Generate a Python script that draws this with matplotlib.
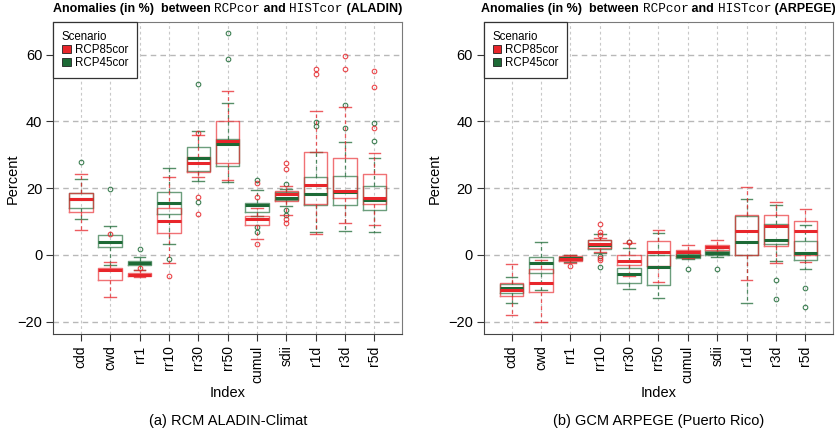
import matplotlib
matplotlib.use("Agg")
import matplotlib.pyplot as plt
from matplotlib.patches import Patch
from matplotlib.offsetbox import TextArea, HPacker, AnchoredOffsetbox

plt.rcParams['font.family'] = ['Liberation Sans', 'DejaVu Sans']

indices = ["cdd", "cwd", "rr1", "rr10", "rr30", "rr50", "cumul", "sdii", "r1d", "r3d", "r5d"]
scenarios = ["RCP85cor", "RCP45cor"]

# ---- ALADIN ----
ala85_whishi = [24.2, -2.1, -4.5, 23.3, 35.9, 49.1, 14.2, 20.7, 43.0, 44.2, 30.4]
ala85_q3 = [18.4, -3.9, -5.4, 14.0, 29.4, 40.1, 11.8, 19.2, 30.7, 28.9, 24.1]
ala85_med = [16.7, -4.5, -5.9, 10.1, 27.6, 34.1, 10.9, 18.2, 21.0, 19.1, 17.1]
ala85_q1 = [13.0, -7.4, -6.3, 6.7, 24.8, 27.4, 9.1, 16.1, 15.4, 17.2, 15.4]
ala85_whislo = [7.6, -12.5, -6.7, -2.5, 23.4, 22.4, 4.9, 12.0, 6.3, 9.6, 9.1]
ala85_fliers = [[], [6.2], [-3.8], [-6.2], [36.4, 17.5, 12.3], [], [21.5, 17.3, 3.2],
                [27.4, 25.7, 10.9, 9.7], [55.6, 54.2], [59.7, 55.7], [55.2, 50.2, 38.1]]

ala45_whishi = [22.8, 8.6, -0.5, 26.1, 37.2, 45.6, 19.4, 19.6, 30.9, 33.7, 28.9]
ala45_q3 = [18.5, 6.0, -1.7, 18.8, 32.2, 34.8, 15.6, 18.8, 23.4, 23.6, 20.7]
ala45_med = [16.9, 4.0, -2.3, 15.7, 29.0, 33.1, 15.0, 17.1, 18.1, 18.7, 16.4]
ala45_q1 = [14.2, 2.4, -3.0, 12.2, 25.0, 26.7, 12.9, 16.5, 14.9, 15.0, 13.4]
ala45_whislo = [10.7, -2.9, -4.4, 3.2, 22.0, 21.9, 11.6, 14.7, 6.8, 7.2, 7.0]
ala45_fliers = [[27.7], [19.6], [1.7], [-1.1], [51.3, 15.9], [66.4, 58.7], [22.4, 8.4, 6.9],
                [21.1, 13.4, 11.9], [39.9, 38.6], [44.9, 38.1], [39.4, 34.1]]

# ---- ARPEGE ----
arp85_whishi = [-2.7, -1.4, 0.1, 5.2, 3.6, 7.6, 2.9, 4.4, 20.4, 15.9, 13.8]
arp85_q3 = [-8.4, -4.1, -0.4, 4.6, -0.1, 4.1, 1.6, 3.0, 12.1, 11.9, 10.3]
arp85_med = [-10.6, -8.3, -1.1, 3.3, -1.9, 1.0, 0.9, 2.5, 7.3, 8.6, 7.1]
arp85_q1 = [-12.3, -11.0, -1.7, 2.0, -3.1, -3.4, -0.3, 1.6, 0.0, 2.6, 0.0]
arp85_whislo = [-18.1, -20.2, -2.4, 1.0, -6.4, -8.1, -1.0, 0.8, -7.6, -2.3, -2.2]
arp85_fliers = [[], [], [-3.3], [9.4, 6.8, 6.0, -0.8, -1.4], [3.9], [], [], [], [], [], []]

arp45_whishi = [-6.6, 4.0, 0.0, 6.2, 2.1, 6.7, 1.0, 2.0, 16.7, 14.9, 9.1]
arp45_q3 = [-8.6, -0.6, -0.6, 4.4, -3.9, 0.0, 0.3, 1.3, 11.6, 9.2, 4.2]
arp45_med = [-9.9, -2.4, -1.0, 3.0, -5.6, -3.5, -0.3, 0.6, 3.9, 4.6, 0.7]
arp45_q1 = [-11.4, -5.4, -1.5, 1.8, -8.3, -8.9, -0.8, 0.0, 0.1, 3.2, -1.4]
arp45_whislo = [-14.5, -10.6, -2.2, 0.5, -10.3, -12.8, -1.3, -0.6, -14.3, -1.9, -4.3]
arp45_fliers = [[], [], [], [-0.3, -3.7], [3.8], [], [-4.3], [-4.1], [], [-7.6, -13.2], [-9.8, -15.5]]

red = "#e8262b"
green = "#1d6a36"


def make_stats(whishi, q3, med, q1, whislo, fliers):
    return [dict(whishi=a, q3=b, med=c, q1=d, whislo=e, fliers=f, label=lab)
            for a, b, c, d, e, f, lab in zip(whishi, q3, med, q1, whislo, fliers, indices)]


def draw_box(ax, stats, col):
    pos = list(range(1, len(indices) + 1))
    ax.bxp(stats, positions=pos, widths=0.8, capwidths=0.4, showfliers=True,
           boxprops=dict(color=col, lw=1.0, alpha=0.65),
           whiskerprops=dict(color=col, lw=0.9, alpha=0.75, linestyle=(0, (3, 2.5))),
           capprops=dict(color=col, lw=1.0, alpha=0.75),
           medianprops=dict(color=col, lw=2.2),
           flierprops=dict(marker='o', markersize=3.3, markerfacecolor='none',
                           markeredgecolor=col, markeredgewidth=0.8, alpha=0.85))


def style_axes(ax, model, ylab_x):
    ax.set_xlim(0.06, 11.94)
    ax.set_ylim(-23.8, 69.7)
    ax.set_yticks([-20, 0, 20, 40, 60])
    ax.set_xticks(range(1, len(indices) + 1))
    ax.set_xticklabels(indices, rotation=90, fontsize=10)
    ax.tick_params(axis='y', labelsize=10.5)
    ax.tick_params(direction='out', length=5, width=0.8, color='#333333', pad=3)
    for y in [-20, 0, 20, 40, 60]:
        ax.axhline(y, color='#b8b8b8', lw=1.0, dashes=(4, 3), zorder=0)
    for x in range(1, len(indices) + 1):
        ax.axvline(x, color='#c8c8c8', lw=0.8, dashes=(2.5, 2.5), zorder=0)
    for s in ['left', 'bottom']:
        ax.spines[s].set_color('#444444')
    for s in ['top', 'right']:
        ax.spines[s].set_color('#7a7a7a')
    ax.set_ylabel('Percent', fontsize=10.5)
    ax.yaxis.set_label_coords(ylab_x, 0.5)

    # title mixing bold sans and monospace
    bold = dict(fontfamily='Liberation Sans', fontweight='bold', fontsize=9)
    mono = dict(fontfamily='Liberation Mono', fontsize=9.2)
    parts = [TextArea("Anomalies (in %)  between ", textprops=bold),
             TextArea("RCPcor", textprops=mono),
             TextArea(" and ", textprops=bold),
             TextArea("HISTcor", textprops=mono),
             TextArea(" (" + model + ")", textprops=bold)]
    box = HPacker(children=parts, align='baseline', pad=0, sep=0)
    anc = AnchoredOffsetbox(loc='lower center', child=box, pad=0, borderpad=0, frameon=False,
                            bbox_to_anchor=(0.5, 1.025), bbox_transform=ax.transAxes)
    ax.add_artist(anc)

    handles = [Patch(facecolor=red, edgecolor='#222222', lw=0.6),
               Patch(facecolor=green, edgecolor='#222222', lw=0.6)]
    leg = ax.legend(handles, scenarios, title='Scenario', loc='upper left',
                    fontsize=8.3, title_fontsize=8.3, fancybox=False, framealpha=1,
                    edgecolor='#333333', borderaxespad=0, borderpad=0.75,
                    handlelength=0.75, handleheight=0.75, handletextpad=0.35,
                    labelspacing=0.1, alignment='left')
    leg.get_frame().set_linewidth(0.9)


fig = plt.figure(figsize=(8.35, 4.29), dpi=100)
ax1 = fig.add_axes([0.0638, 0.2207, 0.4176, 0.7273])
ax2 = fig.add_axes([0.5796, 0.2207, 0.418, 0.7273])

draw_box(ax1, make_stats(ala45_whishi, ala45_q3, ala45_med, ala45_q1, ala45_whislo, ala45_fliers), green)
draw_box(ax1, make_stats(ala85_whishi, ala85_q3, ala85_med, ala85_q1, ala85_whislo, ala85_fliers), red)
draw_box(ax2, make_stats(arp45_whishi, arp45_q3, arp45_med, arp45_q1, arp45_whislo, arp45_fliers), green)
draw_box(ax2, make_stats(arp85_whishi, arp85_q3, arp85_med, arp85_q1, arp85_whislo, arp85_fliers), red)

style_axes(ax1, "ALADIN", -0.097)
style_axes(ax2, "ARPEGE", -0.121)

fig.text(227.7 / 835, 1 - 393 / 429, 'Index', ha='center', va='center', fontsize=10.5)
fig.text(658.5 / 835, 1 - 393 / 429, 'Index', ha='center', va='center', fontsize=10.5)
fig.text(227.7 / 835, 1 - 420.5 / 429, '(a) RCM ALADIN-Climat', ha='center', va='center', fontsize=10.5)
fig.text(658.5 / 835, 1 - 420.5 / 429, '(b) GCM ARPEGE (Puerto Rico)', ha='center', va='center', fontsize=10.5)

fig.savefig('out.png', dpi=100)
